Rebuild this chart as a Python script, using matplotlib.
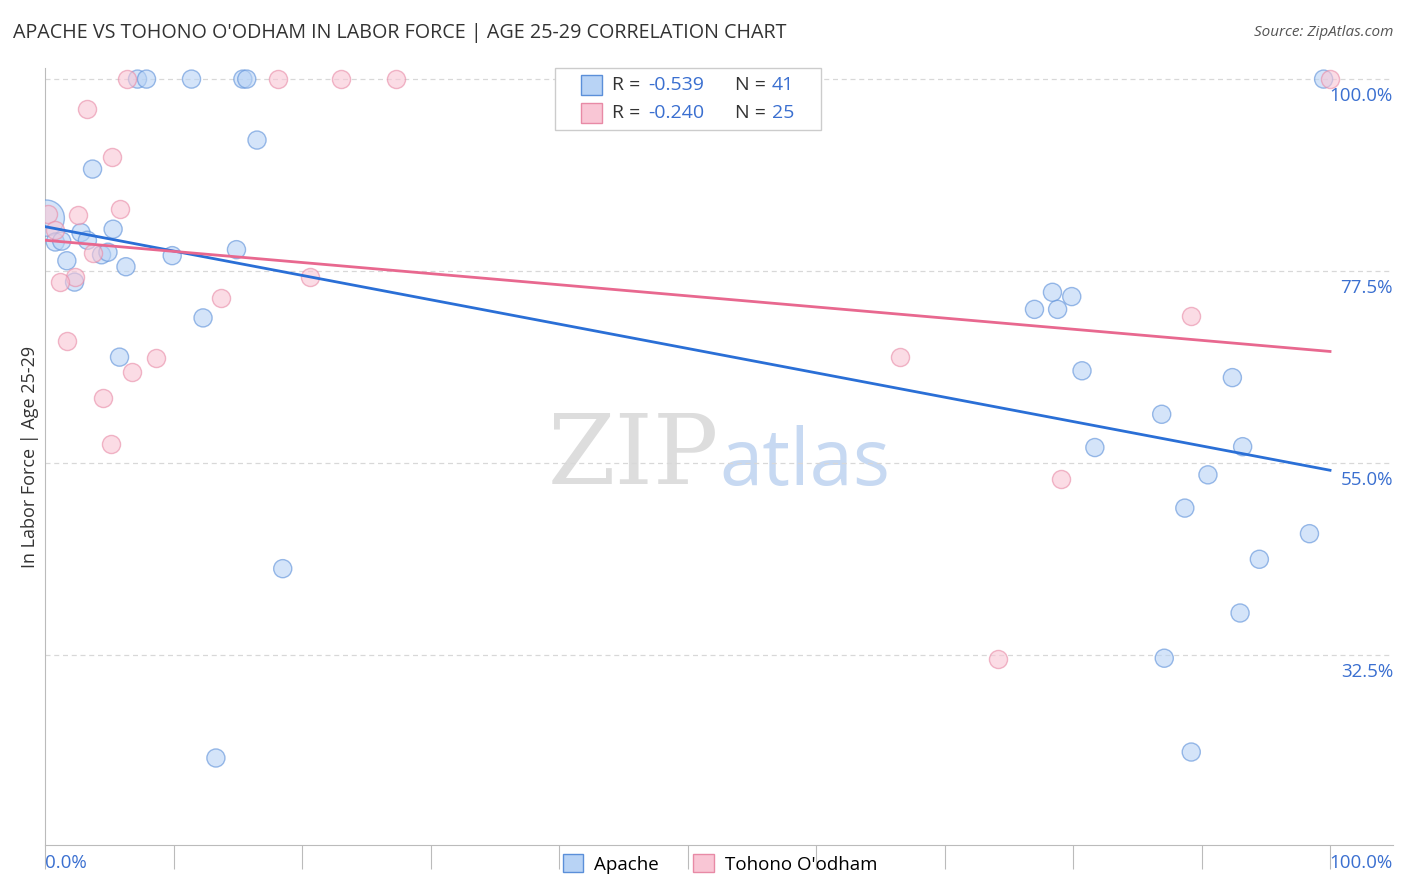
import numpy as np
import matplotlib
matplotlib.use("Agg")
import matplotlib.pyplot as plt
from matplotlib.patches import Patch

plt.rcParams['font.family'] = ['Open Sans', 'DejaVu Sans']

# Apache (blue) points: x = Apache share %, y = in labor force %
apache_x = [7.2, 7.9, 11.4, 15.4, 15.7, 99.5, 16.5, 3.7, 0.1, 0.8, 1.3, 2.8, 3.3,
            5.3, 4.4, 4.9, 1.7, 6.3, 2.3, 9.9, 14.9, 12.3, 5.8, 18.5, 13.3,
            77.0, 78.4, 78.8, 79.9, 80.7, 81.7, 86.9, 92.4, 93.2, 90.5, 88.7,
            98.4, 94.5, 93.0, 87.1, 89.2]
apache_y = [100, 100, 100, 100, 100, 100, 92.85, 89.45, 83.7, 80.9, 81.0, 82.0, 81.1,
            82.4, 79.4, 79.7, 78.7, 78.0, 76.2, 79.3, 80.0, 72.0, 67.4, 42.6, 20.4,
            73.0, 75.0, 73.0, 74.5, 65.8, 56.8, 60.7, 65.0, 56.9, 53.6, 49.7,
            46.7, 43.7, 37.4, 32.1, 21.1]
apache_big = [8]  # index of the large bubble

tohono_x = [6.4, 18.1, 23.0, 27.3, 100.0, 3.3, 5.2, 5.8, 2.6, 0.2, 0.8, 3.7, 2.3,
            1.2, 1.7, 13.7, 20.6, 8.6, 6.8, 4.5, 5.1, 66.5, 79.1, 89.2, 74.2]
tohono_y = [100, 100, 100, 100, 100, 96.5, 90.9, 84.8, 84.1, 84.2, 82.3, 79.6, 76.8,
            76.2, 69.3, 74.3, 76.8, 67.3, 65.7, 62.6, 57.2, 67.4, 53.1, 72.2, 32.0]

r_vals = ["-0.539", "-0.240"]
n_vals = ["41", "25"]
y_ticks = [100.0, 77.5, 55.0, 32.5]

blue_face = '#b8d3f5'
blue_edge = '#5b8fd9'
blue_line = '#2a6fd6'
pink_face = '#f9c6d5'
pink_edge = '#e88aa6'
pink_line = '#e8688f'
tick_blue = '#3a6fd0'

fig = plt.figure(figsize=(14.06, 8.92), dpi=100)
ax = fig.add_axes([45/1406, (892-845)/892, (1393-45)/1406, (845-68)/892])
ax.set_xlim(0, 104.9)
ax.set_ylim(10.2, 101.3)

sizes_a = [680 if i in apache_big else 170 for i in range(len(apache_x))]
ax.scatter(apache_x, apache_y, s=sizes_a, facecolor=blue_face, edgecolor=blue_edge,
           linewidth=1.0, alpha=0.6, zorder=3)
ax.scatter(tohono_x, tohono_y, s=170, facecolor=pink_face, edgecolor=pink_edge,
           linewidth=1.0, alpha=0.6, zorder=3)

# trend lines
xs = np.array([0, 100])
for xv, yv, col in [(apache_x, apache_y, blue_line), (tohono_x, tohono_y, pink_line)]:
    b, a = np.polyfit(xv, yv, 1)
    ax.plot(xs, a + b * xs, color=col, linewidth=2, zorder=4)

for t in y_ticks:
    ax.axhline(t, color='#d8d8d8', linewidth=0.9, linestyle=(0, (4, 3)), zorder=1)

for s in ['top', 'right']:
    ax.spines[s].set_visible(False)
ax.spines['left'].set_color('#bbbbbb')
ax.spines['bottom'].set_color('#bbbbbb')
ax.set_yticks([])
ax.set_xticks(np.arange(0, 101, 10))
ax.tick_params(axis='x', length=17, color='#bbbbbb', labelbottom=False)

for t in y_ticks:
    ax.text(1.0, t - 2.0, f"{t:.1f}%", transform=ax.get_yaxis_transform(),
            ha='right', va='center', color=tick_blue, fontsize=13.5)
fig.text(45/1406, 1 - 863/892, "0.0%", ha='left', va='center',
         color=tick_blue, fontsize=13.5)
fig.text(1393/1406, 1 - 863/892, "100.0%", ha='right', va='center',
         color=tick_blue, fontsize=13.5)

ax.set_ylabel("In Labor Force | Age 25-29", fontsize=13, color='#333333', labelpad=4)

fig.text(13/1406, 1 - 33/892, "APACHE VS TOHONO O'ODHAM IN LABOR FORCE | AGE 25-29 CORRELATION CHART",
         fontsize=14.2, color='#333333', va='center', ha='left')
fig.text(1393/1406, 1 - 33/892, "Source: ZipAtlas.com", fontsize=11, color='#555555',
         va='center', ha='right', style='italic')

# watermark
ax.text(0.50, 0.5, "ZIP", transform=ax.transAxes, fontsize=70, color='#dddddd',
        ha='right', va='center', family='DejaVu Serif', zorder=0)
ax.text(0.50, 0.49, "atlas", transform=ax.transAxes, fontsize=56, color='#c7d9f2',
        ha='left', va='center', zorder=0)

# top stats legend
box = plt.Rectangle((555/1406, 1 - 130/892), (821-555)/1406, 62/892, transform=fig.transFigure,
                    facecolor='white', edgecolor='#cccccc', linewidth=1, zorder=5)
fig.patches.append(box)
for i, (fc, ec) in enumerate([(blue_face, blue_edge), (pink_face, pink_edge)]):
    yc = 1 - (85 + 28 * i) / 892
    sq = plt.Rectangle((581/1406, yc - 10/892), 21/1406, 20/892, transform=fig.transFigure,
                       facecolor=fc, edgecolor=ec, linewidth=1, zorder=6)
    fig.patches.append(sq)
    fig.text(612/1406, yc, "R = ", fontsize=14, color='#333333', va='center', zorder=7)
    fig.text(648/1406, yc, r_vals[i], fontsize=14, color=tick_blue, va='center', zorder=7)
    fig.text(735/1406, yc, "N = ", fontsize=14, color='#333333', va='center', zorder=7)
    fig.text(772/1406, yc, n_vals[i], fontsize=14, color=tick_blue, va='center', zorder=7)

# bottom legend
handles = [Patch(facecolor=blue_face, edgecolor=blue_edge, label='Apache'),
           Patch(facecolor=pink_face, edgecolor=pink_edge, label="Tohono O'odham")]
fig.legend(handles=handles, loc='center', bbox_to_anchor=(720/1406, 1 - 864/892), ncol=2,
           frameon=False, fontsize=13.5, handlelength=1.1, handleheight=1.1,
           handletextpad=0.6, columnspacing=1.8)

fig.savefig("out.png", dpi=100)
